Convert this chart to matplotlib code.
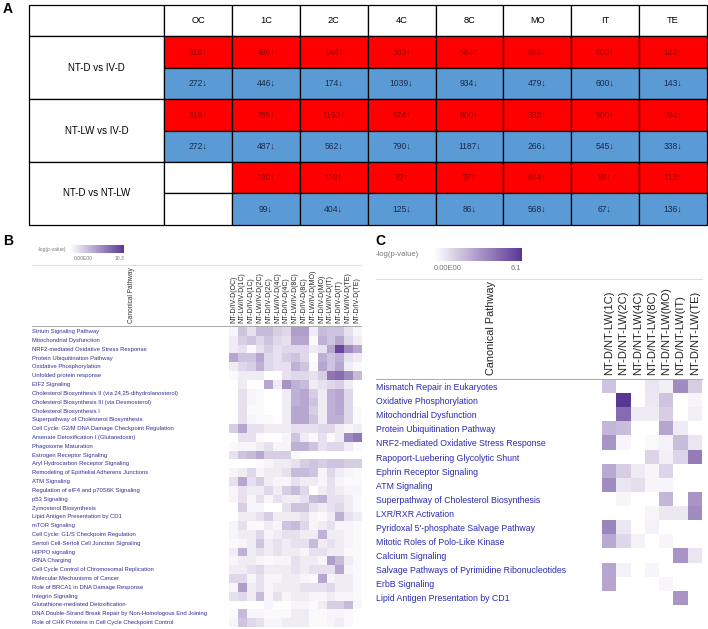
import numpy as np
import matplotlib
matplotlib.use('Agg')
import matplotlib.pyplot as plt
from matplotlib.colors import LinearSegmentedColormap, Normalize
from matplotlib.patches import Rectangle

# ---- panel A data ----
stages = ['OC', '1C', '2C', '4C', '8C', 'MO', 'IT', 'TE']
comparisons = ['NT-D vs IV-D', 'NT-LW vs IV-D', 'NT-D vs NT-LW']
up_counts = [[316, 499, 144, 583, 584, 856, 600, 123],
             [316, 785, 1192, 574, 800, 333, 500, 294],
             [None, 190, 119, 32, 97, 624, 98, 213]]
down_counts = [[272, 446, 174, 1039, 934, 479, 600, 143],
               [272, 487, 562, 790, 1187, 266, 545, 338],
               [None, 99, 404, 125, 86, 568, 67, 136]]

# ---- panel B data ----
b_cols = ['NT-D/IV-D(OC)', 'NT-LW/IV-D(1C)', 'NT-D/IV-D(1C)', 'NT-LW/IV-D(2C)',
          'NT-D/IV-D(2C)', 'NT-LW/IV-D(4C)', 'NT-D/IV-D(4C)', 'NT-LW/IV-D(8C)',
          'NT-D/IV-D(8C)', 'NT-LW/IV-D(MO)', 'NT-D/IV-D(MO)', 'NT-LW/IV-D(IT)',
          'NT-D/IV-D(IT)', 'NT-LW/IV-D(TE)', 'NT-D/IV-D(TE)']
b_rows = ['Sirtuin Signaling Pathway', 'Mitochondrial Dysfunction',
          'NRF2-mediated Oxidative Stress Response', 'Protein Ubiquitination Pathway',
          'Oxidative Phosphorylation', 'Unfolded protein response', 'EIF2 Signaling',
          'Cholesterol Biosynthesis II (via 24,25-dihydrolanosterol)',
          'Cholesterol Biosynthesis III (via Desmosterol)', 'Cholesterol Biosynthesis I',
          'Superpathway of Cholesterol Biosynthesis',
          'Cell Cycle: G2/M DNA Damage Checkpoint Regulation',
          'Arsenate Detoxification I (Glutaredoxin)', 'Phagosome Maturation',
          'Estrogen Receptor Signaling', 'Aryl Hydrocarbon Receptor Signaling',
          'Remodeling of Epithelial Adherens Junctions', 'ATM Signaling',
          'Regulation of eIF4 and p70S6K Signaling', 'p53 Signaling',
          'Zymosterol Biosynthesis', 'Lipid Antigen Presentation by CD1', 'mTOR Signaling',
          'Cell Cycle: G1/S Checkpoint Regulation', 'Sertoli Cell-Sertoli Cell Junction Signaling',
          'HIPPO signaling', 'tRNA Charging', 'Cell Cycle Control of Chromosomal Replication',
          'Molecular Mechanisms of Cancer', 'Role of BRCA1 in DNA Damage Response',
          'Integrin Signaling', 'Glutathione-mediated Detoxification',
          'DNA Double-Strand Break Repair by Non-Homologous End Joining',
          'Role of CHK Proteins in Cell Cycle Checkpoint Control']
b_vals = np.array([
    [0.5, 3, 1.5, 3.5, 3.5, 2.5, 2, 5, 5, 1, 3.5, 3, 3, 1.5, 0.5],
    [1, 2.5, 3, 2, 3, 2, 1.5, 4.5, 4.5, 0.3, 4, 3, 4.5, 2, 1],
    [1, 1.5, 0.3, 1.5, 2.5, 1.5, 2, 2, 2, 1, 1.5, 4.5, 9.5, 6, 4.5],
    [4.5, 3, 3, 4.5, 2, 1.5, 2.5, 3, 2, 0, 4, 3, 4, 1.5, 1],
    [1, 2, 2.5, 4, 2, 1.5, 1.5, 4, 3, 0.3, 4.5, 3, 4.5, 1, 0.3],
    [0.3, 1, 1, 1, 0, 0, 1.5, 2, 2, 1.5, 2.5, 7, 7.5, 6, 3.5],
    [0, 1, 0, 0, 4.5, 1, 5.5, 4, 3.5, 1, 1.5, 2, 2.5, 1, 0],
    [0, 1.5, 0.5, 0.3, 0, 0, 1, 4, 4.5, 2.5, 1, 4, 4.5, 2, 0],
    [0, 1.5, 0.5, 0.3, 0, 0, 1, 4, 4.5, 3, 1, 4, 4.5, 2, 0],
    [0, 1.5, 0.3, 0.3, 0, 0, 1, 4.5, 4.5, 2.5, 1, 4, 4.5, 2, 0.3],
    [0, 1.5, 0.5, 0.3, 0.3, 0, 1, 4.5, 4.5, 3, 1, 4, 4, 2, 0.3],
    [2.5, 4.5, 1.5, 1.5, 1, 1, 1, 1.5, 1.5, 1.5, 2, 2, 1, 0.5, 1],
    [0, 1.5, 1.5, 0.3, 0, 0, 0.5, 3, 1, 0.3, 1.5, 0.3, 1, 6, 7],
    [0.3, 0.5, 0.5, 1, 1.5, 0.5, 0.5, 4, 4, 3, 1.5, 2, 2, 1, 0.3],
    [1.5, 3, 3.5, 4.5, 2.5, 2.5, 2.5, 0.3, 0, 0, 0, 0, 0, 0, 0],
    [0, 0, 0, 0.3, 0.5, 1, 1, 1.5, 2.5, 3, 2.5, 3, 3, 2.5, 2.5],
    [0.5, 1, 2, 0.5, 1, 1, 1.5, 3.5, 3.5, 3, 0.5, 2, 1, 0.5, 0.3],
    [1.5, 4.5, 1.5, 2.5, 1, 0.5, 0.5, 1.5, 1, 1, 0.5, 1.5, 0.5, 0.3, 0.3],
    [0.5, 1.5, 1, 1, 2, 1, 2.5, 3.5, 2, 0, 1, 1.5, 1, 0.5, 0.5],
    [0.5, 1.5, 0.5, 1.5, 0.5, 1.5, 1, 1, 1.5, 3.5, 4, 1.5, 1.5, 1, 0.3],
    [0, 2.5, 0.5, 0.5, 0, 0, 1.5, 3, 3, 1.5, 1, 1.5, 2, 1, 0.3],
    [0, 1, 1, 1.5, 2.5, 1, 1, 1, 1.5, 0.5, 0.3, 1, 4, 1.5, 1],
    [0.5, 1.5, 0.3, 0.3, 1, 0.5, 3, 3.5, 2, 0.5, 1, 1.5, 0.5, 0.5, 0.3],
    [0.5, 1, 1, 2, 0.5, 1, 1.5, 1.5, 1, 1, 4, 1, 1, 0.5, 0.3],
    [0.3, 0.5, 1, 3, 1, 1.5, 1, 1.5, 1.5, 3.5, 1, 1.5, 1, 0.5, 0.3],
    [1, 4, 1, 1.5, 1, 1.5, 1, 1, 0.5, 1.5, 1.5, 1, 1, 0.3, 0.3],
    [0.5, 1, 1, 0.5, 0.3, 0.5, 0.5, 1.5, 1, 1, 0.5, 5, 3.5, 1, 0.3],
    [1, 1, 1.5, 2, 1, 1, 1, 1.5, 1, 1.5, 1.5, 1.5, 4.5, 0.5, 0.3],
    [2, 2, 0.5, 1.5, 0.5, 0.5, 1, 1, 0.5, 0.3, 4.5, 0.5, 1, 1, 0.3],
    [0.5, 5, 1, 1.5, 0.5, 1, 1, 1, 1.5, 1.5, 1.5, 2, 1, 1, 0.3],
    [1.5, 2, 1, 3.5, 0.5, 1.5, 0.5, 1, 1, 0.5, 0.5, 1, 0.5, 0.5, 0.3],
    [0, 0, 0, 0, 0.5, 0, 0, 0.5, 0.5, 0.3, 1, 2.5, 2.5, 3.5, 0.5],
    [0.3, 3.5, 0.5, 0.5, 0.3, 0.3, 0.3, 1, 1, 0.3, 0.3, 0.5, 0.5, 0.3, 0],
    [0.5, 3, 2, 1.5, 0.5, 0.5, 1, 1, 1, 0.3, 0.3, 0.5, 1, 0.3, 0],
])
b_max = 10.3

# ---- panel C data ----
c_cols = ['NT-D/NT-LW(1C)', 'NT-D/NT-LW(2C)', 'NT-D/NT-LW(4C)', 'NT-D/NT-LW(8C)',
          'NT-D/NT-LW(MO)', 'NT-D/NT-LW(IT)', 'NT-D/NT-LW(TE)']
c_rows = ['Mismatch Repair in Eukaryotes', 'Oxidative Phosphorylation',
          'Mitochondrial Dysfunction', 'Protein Ubiquitination Pathway',
          'NRF2-mediated Oxidative Stress Response', 'Rapoport-Luebering Glycolytic Shunt',
          'Ephrin Receptor Signaling', 'ATM Signaling',
          'Superpathway of Cholesterol Biosynthesis', 'LXR/RXR Activation',
          "Pyridoxal 5'-phosphate Salvage Pathway", 'Mitotic Roles of Polo-Like Kinase',
          'Calcium Signaling', 'Salvage Pathways of Pyrimidine Ribonucleotides',
          'ErbB Signaling', 'Lipid Antigen Presentation by CD1']
c_vals = np.array([
    [1.8, 0, 0, 0.8, 0.5, 3.5, 1.5],
    [0, 6.1, 0, 0.7, 1.8, 0, 0.3],
    [0, 4.5, 0.6, 0.6, 1.5, 0, 0.5],
    [2.2, 2.0, 0, 0, 2.7, 0.6, 0],
    [3.2, 0.3, 0, 0.2, 0.4, 2.0, 0.8],
    [0, 0, 0, 1.3, 0.5, 1.3, 4.0],
    [2.6, 1.5, 0.6, 0.3, 1.3, 0, 0],
    [3.5, 0.8, 1.0, 0.3, 0.3, 0, 0],
    [0, 0.3, 0, 0, 2.2, 0, 3.2],
    [0, 0, 0, 0.3, 0.7, 0.7, 3.5],
    [3.7, 0.7, 0, 0.4, 0, 0, 0],
    [2.6, 1.2, 0.4, 0, 0.3, 0, 0],
    [0, 0, 0, 0, 0, 3.2, 0.8],
    [2.7, 0.4, 0, 0.3, 0, 0, 0],
    [2.7, 0, 0, 0, 0.3, 0, 0],
    [0, 0, 0, 0, 0, 3.2, 0],
])
c_max = 6.1

W, H = 708, 629
SANS = ['Liberation Sans', 'DejaVu Sans']
plt.rcParams['font.family'] = SANS

cmap = LinearSegmentedColormap.from_list('pval', ['#ffffff', '#5b3794'])
red, blue = '#ff0000', '#5b9bd5'


def box(x0, y0, x1, y1):
    # pixel box (top-left origin) -> figure fraction
    return [x0 / W, 1 - y1 / H, (x1 - x0) / W, (y1 - y0) / H]


fig = plt.figure(figsize=(W / 100, H / 100), dpi=100)
ov = fig.add_axes([0, 0, 1, 1])
ov.set_xlim(0, W)
ov.set_ylim(H, 0)
ov.axis('off')

# ---------------- panel A: table ----------------
tx0, ty0 = 29.3, 5.0
lab_w, col_w, row_h = 135.0, 67.8, 31.4
lw = 0.9
ov.add_patch(Rectangle((tx0, ty0), lab_w, row_h, fc='white', ec='black', lw=lw))
for j, s in enumerate(stages):
    x = tx0 + lab_w + j * col_w
    ov.add_patch(Rectangle((x, ty0), col_w, row_h, fc='white', ec='black', lw=lw))
    ov.text(x + col_w / 2, ty0 + row_h / 2, s, ha='center', va='center', fontsize=6.7)
for i, comp in enumerate(comparisons):
    y = ty0 + row_h * (1 + 2 * i)
    ov.add_patch(Rectangle((tx0, y), lab_w, 2 * row_h, fc='white', ec='black', lw=lw))
    ov.text(tx0 + lab_w / 2, y + row_h, comp, ha='center', va='center', fontsize=7)
    for j in range(len(stages)):
        x = tx0 + lab_w + j * col_w
        u, d = up_counts[i][j], down_counts[i][j]
        ov.add_patch(Rectangle((x, y), col_w, row_h, fc=red if u else 'white', ec='black', lw=lw))
        ov.add_patch(Rectangle((x, y + row_h), col_w, row_h, fc=blue if d else 'white',
                               ec='black', lw=lw))
        if u:
            ov.text(x + col_w / 2, y + row_h / 2, f'{u}\u2191', ha='center', va='center',
                    fontsize=6.2, color='#9a0000')
        if d:
            ov.text(x + col_w / 2, y + 1.5 * row_h, f'{d}\u2193', ha='center', va='center',
                    fontsize=6.2, color='#1c2b4a')

# panel letters
for lab, (px, py) in zip(['A', 'B', 'C'], [(3, 9), (3, 241), (375, 241)]):
    ov.text(px, py, lab, ha='left', va='center', fontsize=10, fontweight='bold')

# ---------------- panel B ----------------
ov.text(66, 249, '-log(p-value)', ha='right', va='center', fontsize=3.6, color='#777777')
ov.text(83, 258, '0.00E00', ha='center', va='center', fontsize=3.6, color='#777777')
ov.text(124, 258, '10.3', ha='right', va='center', fontsize=3.6, color='#777777')
ov.plot([32, 361], [264.5, 264.5], color='#dddddd', lw=0.8)
ov.plot([32, 361], [326, 326], color='#aaaaaa', lw=0.7)
ov.text(131.5, 323, 'Canonical Pathway', rotation=90, ha='center', va='bottom',
        fontsize=4.7, color='#333333')

cax_b = fig.add_axes(box(70, 245, 124, 253))
cb = fig.colorbar(plt.cm.ScalarMappable(Normalize(0, b_max), cmap), cax=cax_b,
                  orientation='horizontal')
cb.set_ticks([])
cb.outline.set_visible(False)

axb = fig.add_axes(box(229, 326.8, 361, 626.5))
axb.imshow(b_vals, cmap=cmap, vmin=0, vmax=b_max, aspect='auto', interpolation='nearest')
axb.set_xticks(range(len(b_cols)))
axb.set_xticklabels(b_cols, rotation=90, fontsize=5.0, color='#222222')
axb.set_yticks(range(len(b_rows)))
axb.set_yticklabels(b_rows, ha='left', fontsize=4.2, color='#2e3192')
axb.tick_params(axis='x', top=True, labeltop=True, bottom=False, labelbottom=False,
                length=0, pad=2.5)
axb.tick_params(axis='y', length=0, pad=(229 - 32) * 0.72)
for sp in axb.spines.values():
    sp.set_visible(False)

# ---------------- panel C ----------------
ov.text(376, 255, '-log(p-value)', ha='left', va='center', fontsize=5.5, color='#777777')
ov.text(434, 269, '0.00E00', ha='left', va='center', fontsize=5.5, color='#777777')
ov.text(521.7, 269, '6.1', ha='right', va='center', fontsize=5.5, color='#777777')
ov.plot([376, 702], [278.5, 278.5], color='#dddddd', lw=0.8)
ov.plot([376, 702], [379, 379], color='#aaaaaa', lw=0.7)
ov.text(491, 375, 'Canonical Pathway', rotation=90, ha='center', va='bottom',
        fontsize=7.8, color='#222222')

cax_c = fig.add_axes(box(434, 247.7, 521.7, 260.7))
cb = fig.colorbar(plt.cm.ScalarMappable(Normalize(0, c_max), cmap), cax=cax_c,
                  orientation='horizontal')
cb.set_ticks([])
cb.outline.set_visible(False)

axc = fig.add_axes(box(602, 379.5, 702, 605))
axc.imshow(c_vals, cmap=cmap, vmin=0, vmax=c_max, aspect='auto', interpolation='nearest')
axc.set_xticks(range(len(c_cols)))
axc.set_xticklabels(c_cols, rotation=90, fontsize=8.0, color='#222222')
axc.set_yticks(range(len(c_rows)))
axc.set_yticklabels(c_rows, ha='left', fontsize=6.3, color='#2b2bb0')
axc.tick_params(axis='x', top=True, labeltop=True, bottom=False, labelbottom=False,
                length=0, pad=3)
axc.tick_params(axis='y', length=0, pad=(602 - 376) * 0.72)
for sp in axc.spines.values():
    sp.set_visible(False)

fig.savefig('out.png', dpi=100)
